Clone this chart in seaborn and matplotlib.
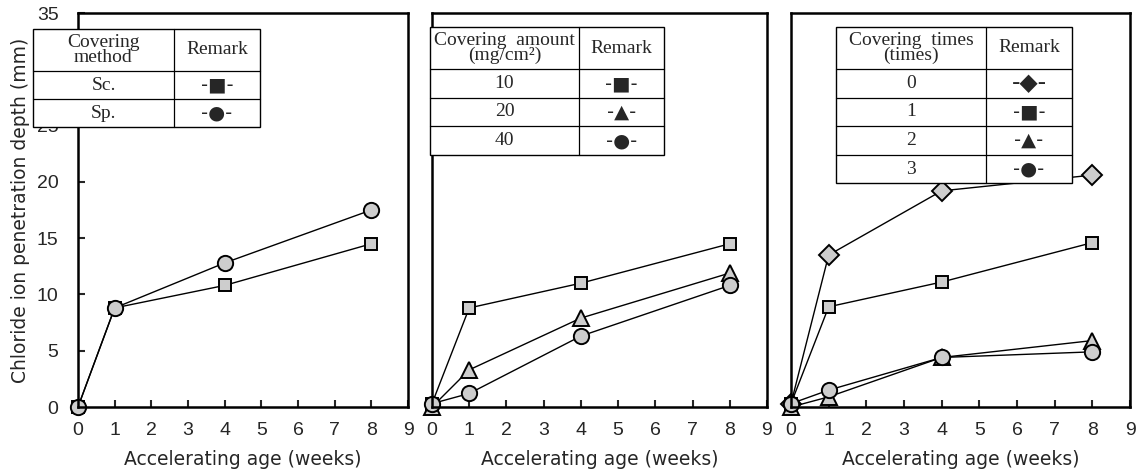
import numpy as np
import pandas as pd
import seaborn as sns
import matplotlib.pyplot as plt
from matplotlib.patches import Rectangle

weeks = [0, 1, 4, 8]

# panel 1 - covering method
sc_depth = [0.0, 8.8, 10.8, 14.5]
sp_depth = [0.0, 8.8, 12.8, 17.5]

# panel 2 - covering amount (mg/cm2)
amt10_depth = [0.3, 8.8, 11.0, 14.5]
amt20_depth = [0.0, 3.3, 7.9, 11.9]
amt40_depth = [0.3, 1.2, 6.3, 10.8]

# panel 3 - covering times
t0_depth = [0.3, 13.5, 19.2, 20.6]
t1_depth = [0.3, 8.9, 11.1, 14.6]
t2_depth = [0.0, 0.9, 4.4, 5.9]
t3_depth = [0.3, 1.5, 4.4, 4.9]

panels = [
    [('Sc.', 's', sc_depth), ('Sp.', 'o', sp_depth)],
    [('10', 's', amt10_depth), ('20', '^', amt20_depth), ('40', 'o', amt40_depth)],
    [('0', 'D', t0_depth), ('1', 's', t1_depth), ('2', '^', t2_depth), ('3', 'o', t3_depth)],
]
table_heads = ['Covering\nmethod', 'Covering  amount\n(mg/cm²)', 'Covering  times\n(times)']
symbols = {'s': '-■-', 'o': '-●-', '^': '-▲-', 'D': '-◆-'}
symsize = {'s': 14, 'o': 14, '^': 14, 'D': 17}
msize = {'s': 9, 'o': 11, '^': 11, 'D': 10}

sns.set_style('ticks')
plt.rcParams['font.family'] = ['Liberation Sans', 'DejaVu Sans']

W, H = 1143, 474
fig = plt.figure(figsize=(W / 100, H / 100), dpi=100)

# axes boxes in pixels: left, right
boxes = [(78, 408), (432, 767), (791, 1130)]
top_px, bot_px = 13, 407

for i, (l, r) in enumerate(boxes):
    ax = fig.add_axes([l / W, (H - bot_px) / H, (r - l) / W, (bot_px - top_px) / H])
    for name, mk, vals in panels[i]:
        sns.lineplot(x=weeks, y=vals, ax=ax, color='black', linewidth=1.0,
                     marker=mk, markersize=msize[mk], markerfacecolor='#cdcdcd',
                     markeredgecolor='black', markeredgewidth=1.4, clip_on=False,
                     estimator=None, sort=False)
    ax.set_xlim(0, 9)
    ax.set_ylim(0, 35)
    ax.set_xticks(range(10))
    ax.set_xlabel('Accelerating age (weeks)', fontsize=13.5, family='DejaVu Sans', labelpad=8)
    for s in ax.spines.values():
        s.set_linewidth(1.8)
        s.set_color('black')
    ax.tick_params(axis='x', direction='in', length=5, width=1.5, labelsize=14, pad=11)
    if i == 0:
        ax.set_yticks(range(0, 36, 5))
        ax.tick_params(axis='y', direction='in', length=5, width=1.5, labelsize=14, pad=14)
        ax.set_ylabel('Chloride ion penetration depth (mm)', fontsize=13.5,
                      family='DejaVu Sans', labelpad=5)
    else:
        ax.set_yticks([])
        ax.set_ylabel('')

# legend tables (pixel layout): x0, split, x1, row edges
tables = [
    (33, 174, 260, [29, 71, 99, 127]),
    (430, 579, 664, [27, 69, 98, 126, 155]),
    (836, 986, 1072, [27, 69, 98, 126, 155, 183]),
]

for i, (x0, xs, x1, ys) in enumerate(tables):
    w, h = x1 - x0, ys[-1] - ys[0]
    tax = fig.add_axes([x0 / W, (H - ys[-1]) / H, w / W, h / H])
    tax.set_xlim(0, w)
    tax.set_ylim(h, 0)
    tax.axis('off')
    tax.add_patch(Rectangle((0, 0), w, h, facecolor='white', edgecolor='black',
                            linewidth=1.0, clip_on=False))
    tax.plot([xs - x0, xs - x0], [0, h], color='black', linewidth=0.9, clip_on=False)
    for y in ys[1:-1]:
        tax.plot([0, w], [y - ys[0], y - ys[0]], color='black', linewidth=0.9, clip_on=False)
    cx1, cx2 = (xs - x0) / 2, (xs - x0 + w) / 2
    yc = (ys[1] - ys[0]) / 2
    tax.text(cx1, yc, table_heads[i], ha='center', va='center', fontsize=14,
             family='Liberation Serif', linespacing=0.9)
    tax.text(cx2, yc, 'Remark', ha='center', va='center', fontsize=14, family='Liberation Serif')
    for j, (name, mk, vals) in enumerate(panels[i]):
        yc = (ys[j + 1] + ys[j + 2]) / 2 - ys[0]
        tax.text(cx1, yc, name, ha='center', va='center', fontsize=14, family='Liberation Serif')
        tax.text(cx2, yc, symbols[mk], ha='center', va='center', fontsize=symsize[mk],
                 family='DejaVu Sans')

fig.savefig('out.png', dpi=100)
